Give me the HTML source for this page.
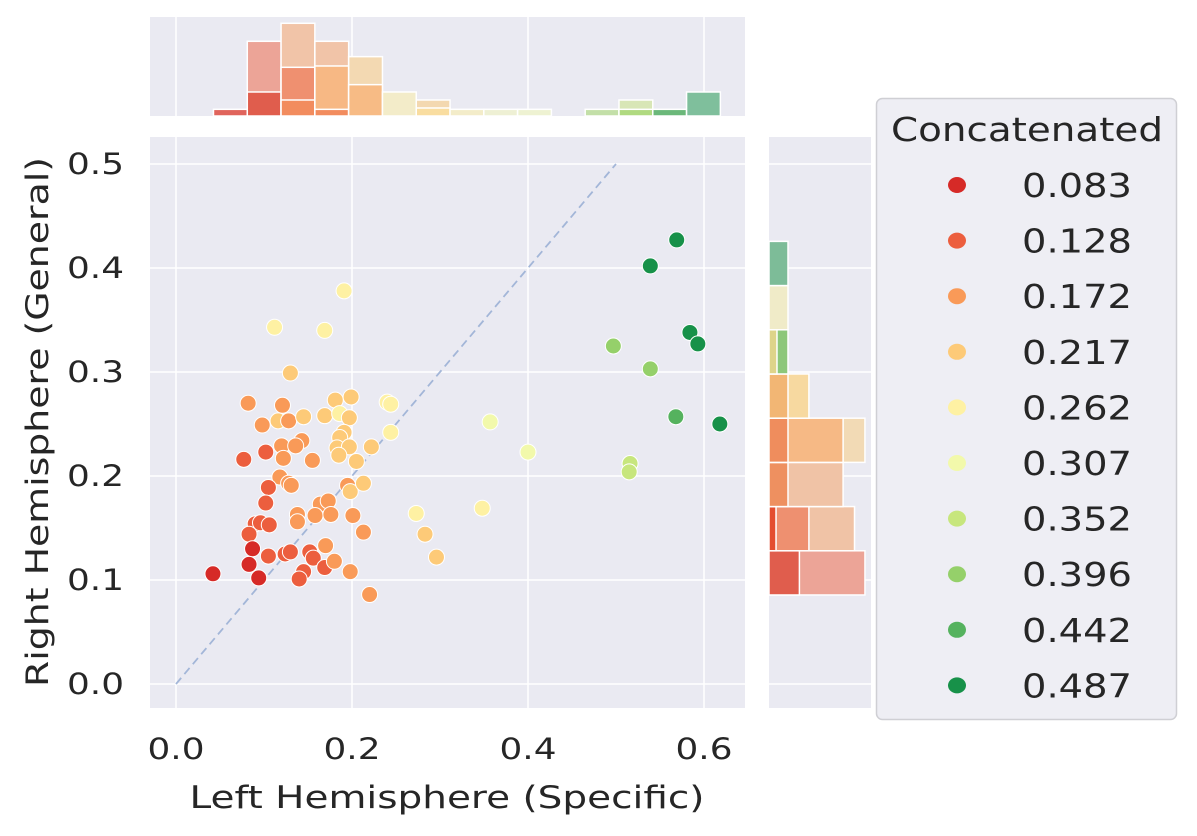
<!DOCTYPE html>
<html><head><meta charset="utf-8"><style>
body{margin:0;background:#fff;}
svg{display:block;font-family:"DejaVu Sans","Liberation Sans",sans-serif;}
</style></head><body>
<svg id="chart" width="1197" height="836" viewBox="0 0 1197 836">
<rect x="150" y="17" width="595" height="99" fill="#eaeaf2"/>
<rect x="769" y="137" width="102" height="571" fill="#eaeaf2"/>
<rect x="150" y="137" width="595" height="571" fill="#eaeaf2"/>
<g id="grid"></g><g id="tophist"></g><g id="righthist"></g><g id="marks"></g><g id="axes"></g>
<text x="447" y="808" font-size="31" fill="#262626" text-anchor="middle" textLength="515" lengthAdjust="spacingAndGlyphs">Left Hemisphere (Specific)</text>
<text transform="translate(48,422) rotate(-90)" font-size="31" fill="#262626" text-anchor="middle" textLength="530" lengthAdjust="spacingAndGlyphs">Right Hemisphere (General)</text>
<g>
<rect x="876.5" y="98.5" width="300" height="621" rx="6" fill="#eeeef4" stroke="#cfcfd4" stroke-width="1.5"/>
<text x="891" y="141" font-size="33" fill="#262626" textLength="272" lengthAdjust="spacingAndGlyphs">Concatenated</text>
<g id="legend-items"></g>
</g>
</svg>
<script>
const levels=["0.083","0.128","0.172","0.217","0.262","0.307","0.352","0.396","0.442","0.487"];
const colors=["#d62a27","#ec5e3e","#f99a58","#fdca78","#fef1a3","#f2f9ab","#c7e67d","#95d06a","#55b25e","#179149"];
const xTicks=[0,0.2,0.4,0.6];
const xTickLabels=["0.0","0.2","0.4","0.6"];
const yTicks=[0,0.1,0.2,0.3,0.4,0.5];
const yTickLabels=["0.0","0.1","0.2","0.3","0.4","0.5"];
const px=[0.191,0.112,0.169,0.130,0.082,0.121,0.181,0.199,0.240,0.244,0.098,0.116,0.128,0.145,0.169,0.186,0.197,0.244,0.191,0.186,0.143,0.120,0.136,0.222,0.183,0.197,0.077,0.102,0.122,0.155,0.185,0.205,0.118,0.128,0.131,0.105,0.195,0.198,0.213,0.102,0.164,0.173,0.138,0.138,0.158,0.176,0.201,0.090,0.096,0.106,0.083,0.213,0.087,0.083,0.094,0.042,0.105,0.124,0.130,0.152,0.156,0.169,0.145,0.140,0.170,0.180,0.198,0.220,0.273,0.283,0.296,0.348,0.357,0.400,0.516,0.515,0.497,0.539,0.568,0.539,0.569,0.584,0.593,0.618];
const py=[0.378,0.343,0.340,0.299,0.270,0.268,0.273,0.276,0.271,0.269,0.249,0.253,0.253,0.257,0.258,0.260,0.256,0.242,0.242,0.237,0.234,0.229,0.229,0.228,0.227,0.228,0.216,0.223,0.217,0.215,0.220,0.214,0.199,0.193,0.191,0.189,0.191,0.185,0.193,0.174,0.173,0.176,0.163,0.156,0.162,0.163,0.162,0.154,0.155,0.153,0.144,0.146,0.130,0.115,0.102,0.106,0.123,0.125,0.127,0.127,0.121,0.112,0.108,0.101,0.133,0.118,0.108,0.086,0.164,0.144,0.122,0.169,0.252,0.223,0.212,0.204,0.325,0.303,0.257,0.402,0.427,0.338,0.327,0.250];
const pl=[4,4,4,3,2,2,3,3,4,4,2,3,2,3,3,4,3,4,3,3,2,2,2,3,3,3,1,1,2,2,3,3,2,2,2,1,2,3,3,1,2,2,2,2,2,2,2,1,1,1,1,2,0,0,0,0,1,1,1,1,1,1,1,1,2,2,2,2,4,3,3,4,5,5,6,6,7,7,8,9,9,9,9,9];
const topBin=[0,1,1,2,2,2,3,3,3,4,4,5,6,6,7,8,9,11,12,12,13,14];
const topCount=[1,11.2,3.6,13.9,7.3,2.4,11.2,7.5,1,8.9,4.7,3.6,2.4,1.2,1,1,1,1,2.4,1,1,3.6];
const topColor=["#e0645c","#eca497","#e05d4d","#f1c4a8","#ef9070","#f28c5e","#f1c4a8","#f7b884","#f28c5e","#f3d9b2","#f7bb85","#f3ecc9","#f3d8b0","#f9dda0","#f3ecc9","#eef0d4","#eef2d2","#c3dfa8","#d8e6b6","#b0da80","#6bb87a","#7fbf9c"];
const rBin=[0,0,1,1,1,2,2,3,3,3,4,4,5,5,6,7];
const rCount=[5.05,1.6,4.5,2.1,0.37,3.9,1,5.05,3.9,1,2.1,1,1,0.42,1,1];
const rColor=["#eca497","#e05d4d","#f0c3a6","#ee9070","#e44d2f","#f0c3a6","#ee9060","#f2dab5","#f6b985","#ef8d5d","#f7d9a0","#f2b674","#8dc77a","#ded48a","#f0ebc8","#7dbc98"];
const topEdge0=0.0426, topW=0.0384, rEdge0=0.0856, rW=0.0425;
const X=v=>176+880*v, Y=v=>684-1040*v;
const NS="http://www.w3.org/2000/svg";
function mk(tag,attrs,parent){const e=document.createElementNS(NS,tag);for(const k in attrs)e.setAttribute(k,attrs[k]);parent.appendChild(e);return e;}
const grid=document.getElementById('grid'),axes=document.getElementById('axes');
xTicks.forEach((t,i)=>{
 const g1=mk('line',{x1:X(t),x2:X(t),y1:137,y2:708,stroke:'#fff','stroke-width':1.5},grid);
 
 
 const g2=mk('line',{x1:X(t),x2:X(t),y1:17,y2:116,stroke:'#fff','stroke-width':1.5},grid);
 
 
 const tx=mk('text',{x:X(t),y:759,'font-size':29,fill:'#262626','text-anchor':'middle',textLength:57,lengthAdjust:'spacingAndGlyphs'},axes);tx.textContent=xTickLabels[i];
 
 
});
yTicks.forEach((t,i)=>{
 const g1=mk('line',{x1:150,x2:745,y1:Y(t),y2:Y(t),stroke:'#fff','stroke-width':1.5},grid);
 
 
 const g2=mk('line',{x1:769,x2:871,y1:Y(t),y2:Y(t),stroke:'#fff','stroke-width':1.5},grid);
 
 
 const tx=mk('text',{x:124,y:Y(t)+10,'font-size':29,fill:'#262626','text-anchor':'end',textLength:57,lengthAdjust:'spacingAndGlyphs'},axes);tx.textContent=yTickLabels[i];
 
 
});
const th=document.getElementById('tophist');
topBin.forEach((b,i)=>{
 const h=topCount[i]*6.67;
 const r=mk('rect',{x:X(topEdge0+b*topW),y:116-h,width:topW*880,height:h,fill:topColor[i],stroke:'#fff','stroke-width':1.5},th);
 
 
});
const rh=document.getElementById('righthist');
rBin.forEach((b,i)=>{
 const w=rCount[i]*19;
 const y0=Y(rEdge0+(b+1)*rW);
 const r=mk('rect',{x:769,y:y0,width:w,height:rW*1040,fill:rColor[i],stroke:'#fff','stroke-width':1.5},rh);
 
 
});
const marks=document.getElementById('marks');
const dl=mk('line',{x1:X(0),y1:Y(0),x2:X(0.5),y2:Y(0.5),stroke:'#a3b6d8','stroke-width':1.8,'stroke-dasharray':'8,5'},marks);


px.forEach((v,i)=>{
 const c=mk('circle',{cx:X(v),cy:Y(py[i]),r:8,fill:colors[pl[i]],stroke:'#fff','stroke-width':1},marks);
 
 
});
const li=document.getElementById('legend-items');
levels.forEach((l,i)=>{
 const y=185+i*55.6;
 const c=mk('ellipse',{cx:957,cy:y,rx:9,ry:8,fill:colors[i]},li);
 
 
 const t=mk('text',{x:1022,y:y+12,'font-size':33,fill:'#262626',textLength:110,lengthAdjust:'spacingAndGlyphs'},li);t.textContent=l;
 
 
});
</script>
</body></html>
